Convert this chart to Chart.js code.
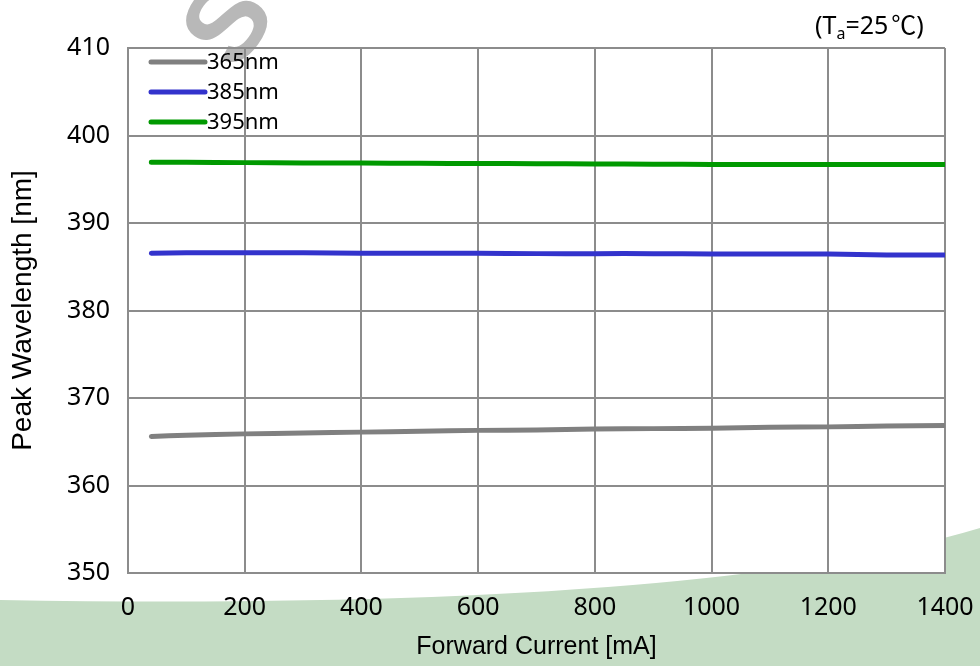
<!DOCTYPE html>
<html>
<head>
<meta charset="utf-8">
<script src="https://cdn.jsdelivr.net/npm/chart.js@4"></script>
<style>
  html, body { margin: 0; padding: 0; background: #fff; }
  #wrap { width: 980px; height: 666px; position: relative; }
</style>
</head>
<body>
<div id="wrap"><canvas id="peakChart" width="980" height="666"></canvas></div>
<script>
// Forward current (mA)
const currents = [40, 100, 200, 300, 400, 500, 600, 700, 800, 900, 1000, 1100, 1200, 1300, 1400];
// Peak wavelength (nm) for each chip
const wl365 = [365.6, 365.75, 365.9, 366.0, 366.1, 366.2, 366.3, 366.35, 366.45, 366.5, 366.55, 366.65, 366.7, 366.8, 366.85];
const wl385 = [386.55, 386.6, 386.6, 386.6, 386.55, 386.55, 386.55, 386.5, 386.5, 386.5, 386.45, 386.45, 386.45, 386.35, 386.35];
const wl395 = [396.95, 396.95, 396.9, 396.85, 396.85, 396.82, 396.8, 396.78, 396.75, 396.72, 396.7, 396.7, 396.7, 396.7, 396.7];
const seriesNames = ['365nm', '385nm', '395nm'];
const seriesColors = ['#808080', '#3333cc', '#009900'];
const yTicks = [350, 360, 370, 380, 390, 400, 410];

const toPoints = (arr) => arr.map((v, i) => ({ x: currents[i], y: v }));

const gridColor = '#8c8c8c';
const sans = '"Noto Sans", "DejaVu Sans", sans-serif';
const cjk = '"Noto Sans CJK KR", "Noto Sans", sans-serif';
const tickFont = { family: sans, size: 25 };

// green swoosh behind the chart + white plot area
const background = {
    id: 'background',
    beforeDraw(chart) {
        const ctx = chart.ctx;
        const a = chart.chartArea;
        ctx.save();
        ctx.fillStyle = '#c4dcc4';
        ctx.beginPath();
        ctx.moveTo(0, 600);
        ctx.quadraticCurveTo(700, 612, 980, 528);
        ctx.lineTo(980, 666);
        ctx.lineTo(0, 666);
        ctx.closePath();
        ctx.fill();
        ctx.fillStyle = '#ffffff';
        ctx.fillRect(a.left, a.top, a.right - a.left, a.bottom - a.top);
        // faint watermark
        ctx.translate(195, 20);
        ctx.rotate(-0.95);
        ctx.fillStyle = '#b8b8b8';
        ctx.font = 'bold 110px "Liberation Sans", Arial, sans-serif';
        ctx.textBaseline = 'middle';
        ctx.fillText('SV', -20, 34);
        ctx.restore();
    }
};

// legend in the top-left corner and the Ta note
const extras = {
    id: 'extras',
    afterDatasetsDraw(chart) {
        const ctx = chart.ctx;
        ctx.save();
        ctx.font = '22px ' + sans;
        ctx.textBaseline = 'middle';
        seriesNames.forEach((name, i) => {
            const y = 62 + i * 30;
            ctx.strokeStyle = seriesColors[i];
            ctx.lineWidth = 5;
            ctx.lineCap = 'round';
            ctx.beginPath();
            ctx.moveTo(151, y);
            ctx.lineTo(205, y);
            ctx.stroke();
            ctx.fillStyle = '#000';
            ctx.fillText(name, 207, y + 1);
        });
        // (Ta=25℃)
        ctx.textBaseline = 'alphabetic';
        const base = 34;
        const pieces = [
            ['(T', '25px ' + sans, 0],
            ['a', '16px ' + sans, 5],
            ['=25', '25px ' + sans, 0],
            ['℃', '25px ' + cjk, 0],
            [')', '25px ' + sans, 0]
        ];
        let x = 815;
        pieces.forEach(([t, f, dy]) => {
            ctx.font = f;
            ctx.fillText(t, x, base + dy);
            x += ctx.measureText(t).width + (t === '=25' ? 3 : 0);
        });
        ctx.restore();
    }
};

const config = {
    type: 'line',
    data: {
        datasets: seriesNames.map((name, i) => ({
            label: name,
            data: toPoints([wl365, wl385, wl395][i]),
            borderColor: seriesColors[i],
            borderWidth: 5,
            pointRadius: 0,
            tension: 0.3,
            borderCapStyle: 'round',
            fill: false
        }))
    },
    options: {
        responsive: false,
        animation: false,
        layout: { padding: { top: 48, right: 35, left: 0, bottom: 0 } },
        plugins: {
            legend: { display: false },
            tooltip: { enabled: false }
        },
        scales: {
            x: {
                type: 'linear',
                min: 0,
                max: 1400,
                ticks: { stepSize: 200, color: '#000', font: tickFont, padding: 20, maxRotation: 0,
                    callback: (v) => String(v) },
                grid: { color: gridColor, lineWidth: 2, drawTicks: false },
                border: { color: gridColor, width: 2 },
                title: { display: true, text: 'Forward Current [mA]', color: '#000',
                    font: { family: '"Liberation Sans", Arial, sans-serif', size: 25 }, padding: { top: 6 } },
                afterFit(scale) {
                    scale.height = 93;
                    scale.paddingLeft = 0;
                    scale.paddingRight = 0;
                }
            },
            y: {
                min: 350,
                max: 410,
                afterBuildTicks(scale) { scale.ticks = yTicks.map(v => ({ value: v })); },
                ticks: { color: '#000', font: tickFont, padding: 18, callback: (v) => String(v) },
                grid: { color: gridColor, lineWidth: 2, drawTicks: false },
                border: { color: gridColor, width: 2 },
                title: { display: true, text: 'Peak Wavelength [nm]', color: '#000',
                    font: { family: '"Liberation Sans", Arial, sans-serif', size: 28 }, padding: { top: 6, bottom: 0 } },
                afterFit(scale) {
                    scale.width = 128;
                    scale.paddingTop = 0;
                    scale.paddingBottom = 0;
                }
            }
        }
    },
    plugins: [background, extras]
};

const peakChart = new Chart(document.getElementById('peakChart'), config);
</script>
</body>
</html>
